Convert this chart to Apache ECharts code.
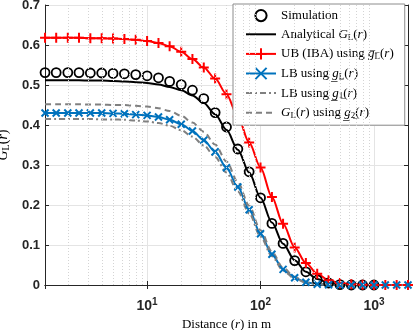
<!DOCTYPE html>
<html lang="en">
<head>
<meta charset="UTF-8">
<title>G_L(r) vs distance</title>
<script src="https://cdn.jsdelivr.net/npm/echarts@6/dist/echarts.min.js"></script>
<style>
    html, body { margin: 0; padding: 0; background: #fff; }
    #chart { width: 415px; height: 330px; }
</style>
</head>
<body>
<div id="chart"></div>
<script>
    // distance r in m (markers every 0.1 decade)
    var distance = [1.26, 1.58, 2.0, 2.51, 3.16, 3.98, 5.01, 6.31, 7.94, 10,
        12.6, 15.8, 20, 25.1, 31.6, 39.8, 50.1, 63.1, 79.4, 100,
        126, 158, 200, 251, 316, 398, 501, 631, 794, 1000,
        1259, 1585, 1995];
    var simulation = [0.531, 0.531, 0.531, 0.531, 0.530, 0.530, 0.529, 0.528, 0.526, 0.523,
        0.518, 0.509, 0.501, 0.487, 0.466, 0.431, 0.395, 0.340, 0.283, 0.218,
        0.154, 0.104, 0.061, 0.033, 0.013, 0.005, 0.001, 0, 0, 0];
    var analytical = [0.512, 0.512, 0.512, 0.512, 0.511, 0.511, 0.510, 0.509, 0.507, 0.505,
        0.501, 0.495, 0.487, 0.474, 0.455, 0.427, 0.388, 0.338, 0.281, 0.218,
        0.156, 0.103, 0.062, 0.033, 0.015, 0.006, 0.002, 0.0005, 0, 0,
        0, 0, 0];
    var upperIBA = [0.618, 0.618, 0.618, 0.618, 0.617, 0.617, 0.616, 0.615, 0.613, 0.610,
        0.605, 0.597, 0.583, 0.565, 0.544, 0.516, 0.477, 0.421, 0.356, 0.294,
        0.220, 0.153, 0.094, 0.055, 0.028, 0.012, 0.005, 0.002, 0.0005, 0,
        0, 0, 0];
    var lowerGL = [0.430, 0.430, 0.430, 0.430, 0.430, 0.430, 0.429, 0.428, 0.426, 0.424,
        0.420, 0.413, 0.402, 0.385, 0.362, 0.333, 0.293, 0.245, 0.188, 0.128,
        0.077, 0.039, 0.018, 0.007, 0.002, 0.0005, 0, 0, 0, 0,
        0, 0, 0];
    var lowerG1 = [0.415, 0.415, 0.415, 0.415, 0.415, 0.414, 0.414, 0.413, 0.411, 0.409,
        0.405, 0.398, 0.387, 0.371, 0.349, 0.320, 0.281, 0.234, 0.179, 0.121,
        0.072, 0.036, 0.016, 0.006, 0.002, 0.0005, 0, 0, 0, 0,
        0, 0, 0];
    var usingG2 = [0.452, 0.452, 0.452, 0.452, 0.451, 0.451, 0.450, 0.450, 0.448, 0.446,
        0.442, 0.435, 0.423, 0.406, 0.383, 0.351, 0.309, 0.257, 0.198, 0.137,
        0.083, 0.043, 0.020, 0.008, 0.003, 0.001, 0, 0, 0, 0,
        0, 0, 0];
    var minorGrid = [2, 3, 4, 5, 6, 7, 8, 9, 20, 30, 40, 50, 60, 70, 80, 90,
        200, 300, 400, 500, 600, 700, 800, 900];
    var yTicks = [0, 0.1, 0.2, 0.3, 0.4, 0.5, 0.6, 0.7];

    var legendText = {
        'Simulation': '{t|Simulation}',
        'Analytical': '{t|Analytical }{i|G}{s|L}{t|(}{i|r}{t|)}',
        'UB': '{t|UB (IBA) using }{i|g\u0305}{s|L\u0305}{t|(}{i|r}{t|)}',
        'LB': '{t|LB using }{i|g\u0332}{s|L\u0332}{t|(}{i|r}{t|)}',
        'LB1': '{t|LB using }{i|g\u0332}{s|1\u0332}{t|(}{i|r}{t|)}',
        'G2': '{i|G}{s|L}{t|(}{i|r}{t|) using }{i|g\u0332}{s|2\u0332}{t|(}{i|r}{t|)}'
    };

    var serif = 'Liberation Serif';
    var rich = {
        t: { fontFamily: serif, fontSize: 13, color: '#000', lineHeight: 15 },
        i: { fontFamily: serif, fontSize: 13, fontStyle: 'italic', color: '#000', lineHeight: 15 },
        s: { fontFamily: serif, fontSize: 9, color: '#000', verticalAlign: 'bottom', lineHeight: 15 }
    };
    var richBig = {
        t: { fontFamily: serif, fontSize: 14, color: '#000', lineHeight: 16 },
        i: { fontFamily: serif, fontSize: 14, fontStyle: 'italic', color: '#000', lineHeight: 16 },
        s: { fontFamily: serif, fontSize: 10, color: '#000', verticalAlign: 'bottom', lineHeight: 16 }
    };

    function pairs(vals) {
        return vals.map(function (v, i) { return [distance[i], v]; });
    }

    var xMin = 1.2589, xMax = 1995.3;
    var axisColor = '#262626';

    var chart = echarts.init(document.getElementById('chart'));

    function lineSeries(name, vals, color, dash, symbol, size) {
        return {
            name: name,
            type: 'line',
            data: pairs(vals),
            smooth: 0.3,
            smoothMonotone: 'x',
            clip: false,
            symbol: symbol || 'circle',
            symbolSize: size || 0,
            showSymbol: !!symbol,
            showAllSymbol: true,
            lineStyle: { color: color, width: 2, type: dash || 'solid' },
            itemStyle: { color: color, borderColor: color, borderWidth: 2 },
            emphasis: { disabled: true }
        };
    }

    // legend entries for plain lines: hide the marker, keep the line sample
    function noMarker(name) {
        return { name: name, itemStyle: { opacity: 0 } };
    }

    var simSeries = {
        name: 'Simulation',
        type: 'line',
        data: pairs(simulation),
        clip: false,
        symbol: 'circle',
        symbolSize: 9,
        showSymbol: true,
        showAllSymbol: true,
        lineStyle: { width: 0, opacity: 0 },
        itemStyle: { color: 'rgba(0,0,0,0)', borderColor: '#000', borderWidth: 1.8 },
        emphasis: { disabled: true },
        markLine: {
            silent: true,
            symbol: 'none',
            animation: false,
            label: { show: false },
            lineStyle: { color: '#d4d4d4', width: 1, type: [1, 2] },
            data: minorGrid.map(function (v) { return { xAxis: v }; })
        }
    };

    var option = {
        animation: false,
        grid: { left: 45, right: 7, top: 5, bottom: 45, outerBoundsMode: 'none' },
        legend: {
            orient: 'vertical',
            left: 233,
            top: 4,
            padding: [5, 11, 5, 12],
            itemWidth: 30,
            itemHeight: 14,
            itemGap: 5.5,
            backgroundColor: '#fff',
            borderColor: '#8c8c8c',
            borderWidth: 1,
            data: [
                { name: 'Simulation', itemStyle: { color: '#fff', borderColor: '#000', borderWidth: 2 } },
                noMarker('Analytical'),
                'UB',
                'LB',
                noMarker('LB1'),
                noMarker('G2')
            ],
            formatter: function (name) { return legendText[name]; },
            textStyle: { rich: rich }
        },
        xAxis: [{
            type: 'log',
            logBase: 10,
            min: xMin,
            max: xMax,
            name: '{t|Distance (}{i|r}{t|) in m}',
            nameLocation: 'middle',
            nameGap: 27,
            nameTextStyle: { rich: rich },
            axisLine: { lineStyle: { color: axisColor, width: 1 } },
            axisTick: { inside: true, length: 4, lineStyle: { color: axisColor } },
            axisLabel: {
                showMinLabel: false,
                showMaxLabel: false,
                margin: 12,
                formatter: function (v) {
                    return '{b|10}{p|' + Math.round(Math.log10(v)) + '}';
                },
                rich: {
                    b: { fontFamily: 'Liberation Sans', fontWeight: 'bold', fontSize: 14, color: axisColor, lineHeight: 18 },
                    p: { fontFamily: 'Liberation Sans', fontWeight: 'bold', fontSize: 10, color: axisColor, verticalAlign: 'top', lineHeight: 18 }
                }
            },
            splitLine: { show: true, lineStyle: { color: '#e4e4e4', width: 1 } }
        }, {
            type: 'log',
            logBase: 10,
            min: xMin,
            max: xMax,
            position: 'top',
            axisLine: { show: true, lineStyle: { color: axisColor, width: 1 } },
            axisTick: { show: true, inside: true, length: 4, lineStyle: { color: axisColor } },
            axisLabel: { show: false },
            splitLine: { show: false }
        }],
        yAxis: [{
            type: 'value',
            min: 0,
            max: 0.7,
            interval: 0.1,
            name: '{i|G}{s|L}{t|(}{i|r}{t|)}',
            nameLocation: 'middle',
            nameGap: 34,
            nameTextStyle: { rich: richBig },
            axisLine: { show: true, lineStyle: { color: axisColor, width: 1 } },
            axisTick: { show: true, inside: true, length: 4, lineStyle: { color: axisColor } },
            axisLabel: {
                margin: 5,
                color: axisColor,
                fontFamily: 'Liberation Sans',
                fontWeight: 'bold',
                fontSize: 13,
                formatter: function (v) {
                    return yTicks.indexOf(Math.round(v * 10) / 10) >= 0 ? String(Math.round(v * 10) / 10) : '';
                }
            },
            splitLine: { show: true, lineStyle: { color: '#e4e4e4', width: 1 } }
        }, {
            type: 'value',
            min: 0,
            max: 0.7,
            interval: 0.1,
            position: 'right',
            axisLine: { show: true, lineStyle: { color: axisColor, width: 1 } },
            axisTick: { show: true, inside: true, length: 4, lineStyle: { color: axisColor } },
            axisLabel: { show: false },
            splitLine: { show: false }
        }],
        series: [
            simSeries,
            lineSeries('Analytical', analytical, '#000000'),
            lineSeries('UB', upperIBA, '#ff0000', 'solid', 'path://M5,0L5,10M0,5L10,5', 10),
            lineSeries('LB', lowerGL, '#0072bd', 'solid', 'path://M0,0L10,10M10,0L0,10', 7),
            lineSeries('LB1', lowerG1, '#808080', [6, 3, 2, 3]),
            lineSeries('G2', usingG2, '#808080', [6, 4])
        ]
    };

    chart.setOption(option);
</script>
</body>
</html>
